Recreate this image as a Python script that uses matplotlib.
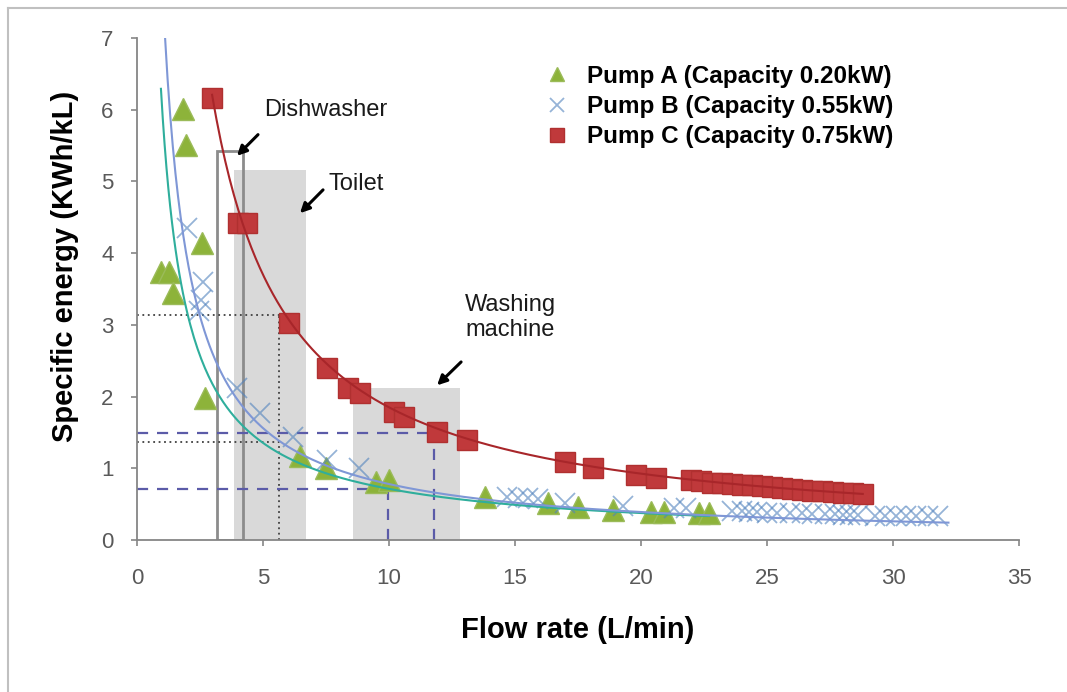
import numpy as np
import matplotlib
matplotlib.use("Agg")
import matplotlib.pyplot as plt
from matplotlib.patches import Rectangle
from matplotlib.lines import Line2D

plt.rcParams['font.family'] = ['Liberation Sans', 'DejaVu Sans']

# Pump A (green triangles)
pump_a_x = [0.95, 1.27, 1.43, 1.83, 1.94, 2.58, 2.7, 6.45, 7.5, 9.5, 10.0,
            13.8, 16.3, 17.5, 18.9, 20.4, 20.9, 22.3, 22.7]
pump_a_y = [3.74, 3.74, 3.44, 6.01, 5.51, 4.14, 1.98, 1.17, 1.0, 0.81, 0.84,
            0.6, 0.52, 0.46, 0.42, 0.39, 0.39, 0.37, 0.37]

# Pump B (blue crosses)
pump_b_x = [2.0, 2.6, 2.55, 2.45, 3.97, 4.88, 6.19, 7.54, 8.8,
            14.7, 15.1, 15.5, 15.9, 17.0, 19.3, 21.3, 21.8,
            23.6, 24.0, 24.3, 24.6, 25.0, 25.4, 25.9, 26.4, 26.8, 27.3, 27.7,
            28.0, 28.3, 28.6, 29.3, 29.7, 30.1, 30.5, 30.9, 31.4, 31.8]
pump_b_y = [4.35, 3.6, 3.35, 3.2, 2.12, 1.77, 1.44, 1.12, 1.0,
            0.6, 0.58, 0.58, 0.57, 0.52, 0.47, 0.45, 0.44,
            0.40, 0.40, 0.39, 0.39, 0.38, 0.38, 0.37, 0.37, 0.36, 0.36, 0.36,
            0.35, 0.35, 0.35, 0.34, 0.34, 0.34, 0.34, 0.33, 0.33, 0.33]

# Pump C (red squares)
pump_c_x = [2.98, 4.0, 4.37, 6.03, 7.54, 8.37, 8.85, 10.2, 10.6, 11.9, 13.1,
            17.0, 18.1, 19.8, 20.6,
            22.0, 22.4, 22.8, 23.2, 23.6, 24.0, 24.4, 24.8, 25.2, 25.6, 26.0,
            26.4, 26.8, 27.2, 27.6, 28.0, 28.4, 28.8]
pump_c_y = [6.16, 4.42, 4.42, 3.03, 2.40, 2.12, 2.05, 1.79, 1.72, 1.51, 1.39,
            1.09, 1.0, 0.91, 0.86,
            0.83, 0.82, 0.80, 0.79, 0.78, 0.77, 0.76, 0.75, 0.74, 0.72, 0.71,
            0.70, 0.69, 0.68, 0.67, 0.66, 0.65, 0.64]

labels = ["Pump A (Capacity 0.20kW)", "Pump B (Capacity 0.55kW)",
          "Pump C (Capacity 0.75kW)"]

# power trendlines y = a * x^b, with their x range
trend_a = [6.0, 7.8, 18.5]
trend_b = [-0.925, -1.0, -1.0]
trend_start = [0.95, 1.11, 2.98]
trend_end = [22.7, 32.2, 28.8]

# appliance flow-rate zones: (x from, x to, top)
dishwasher = (3.17, 4.2, 5.43)
toilet = (3.85, 6.7, 5.16)
washing = (8.57, 12.8, 2.12)

# reading guides
dot_x = 5.63
dot_y = [3.14, 1.37]
dash_x = [11.8, 9.96]
dash_y = [1.49, 0.71]

fig = plt.figure(figsize=(10.67, 6.92), dpi=100)
ax = fig.add_axes([137/1067, 1-540/692, 882/1067, 502/692])

for x0, x1, top in [toilet, washing]:
    ax.add_patch(Rectangle((x0, 0), x1-x0, top, facecolor='#d9d9d9',
                           edgecolor='none', zorder=1))
ax.add_patch(Rectangle((dishwasher[0], 0), dishwasher[1]-dishwasher[0], dishwasher[2],
                       fill=False, edgecolor='#8c8c8c', lw=2, zorder=2))

# dotted guides
for yv in dot_y:
    ax.plot([0, dot_x], [yv, yv], ls=(0, (1, 2)), color='#404040', lw=1.3, zorder=2)
ax.plot([dot_x, dot_x], [0, dot_y[0]], ls=(0, (1, 2)), color='#404040', lw=1.3, zorder=2)
# dashed guides
for xv, yv in zip(dash_x, dash_y):
    ax.plot([0, xv], [yv, yv], ls=(0, (5, 4)), color='#5b5ba8', lw=1.6, zorder=2)
    ax.plot([xv, xv], [0, yv], ls=(0, (5, 4)), color='#5b5ba8', lw=1.6, zorder=2)

# markers
ha, = ax.plot(pump_a_x, pump_a_y, ls='none', marker='^', ms=16, color='#8db33a',
              mec='#9bbb59', zorder=3)
hb, = ax.plot(pump_b_x, pump_b_y, ls='none', marker='x', ms=15, mew=1.3,
              color='#4f81bd', alpha=0.6, zorder=3)
hc, = ax.plot(pump_c_x, pump_c_y, ls='none', marker='s', ms=15, color='#c0393b',
              mec='#b03030', zorder=3)

# trendlines
trend_colors = ['#2fae9c', '#7f97d6', '#a8262a']
for a, b, s, e, c in zip(trend_a, trend_b, trend_start, trend_end, trend_colors):
    xs = np.linspace(s, e, 300)
    ax.plot(xs, a * xs ** b, color=c, lw=1.5, zorder=4)

# annotations
arrow = dict(arrowstyle='-|>', color='black', lw=2.2, mutation_scale=14)
ax.annotate('', xy=(3.89, 5.33), xytext=(4.88, 5.68), arrowprops=arrow, zorder=5)
ax.annotate('', xy=(6.39, 4.53), xytext=(7.46, 4.91), arrowprops=arrow, zorder=5)
ax.annotate('', xy=(11.83, 2.13), xytext=(12.94, 2.51), arrowprops=arrow, zorder=5)
ax.text(5.05, 6.0, 'Dishwasher', fontsize=17, va='center', ha='left', color='#1a1a1a')
ax.text(7.6, 4.97, 'Toilet', fontsize=17, va='center', ha='left', color='#1a1a1a')
ax.text(14.8, 3.1, 'Washing\nmachine', fontsize=17, va='center', ha='center',
        color='#1a1a1a', linespacing=1.15)

ax.set_xlim(0, 35)
ax.set_ylim(0, 7)
ax.set_xticks(range(0, 36, 5))
ax.set_yticks(range(0, 8))
for s in ['top', 'right']:
    ax.spines[s].set_visible(False)
for s in ['left', 'bottom']:
    ax.spines[s].set_color('#868686')
    ax.spines[s].set_linewidth(1.3)
ax.tick_params(axis='both', direction='out', length=4, width=1.2, color='#868686',
               labelcolor='#595959', labelsize=16)
ax.tick_params(axis='x', pad=16)
ax.tick_params(axis='y', pad=13)

ax.set_xlabel('Flow rate (L/min)', fontsize=21, fontweight='bold', va='center')
ax.xaxis.set_label_coords(0.5, -0.179)
ax.set_ylabel('Specific energy (KWh/kL)', fontsize=21, fontweight='bold', va='center')
ax.yaxis.set_label_coords(-0.082, 0.546)

ax.legend([ha, hb, hc], labels, loc='upper left', bbox_to_anchor=(0.438, 0.99),
          frameon=False, prop={'weight': 'bold', 'size': 17.5}, markerscale=0.65,
          handletextpad=0.7, labelspacing=0.3, handlelength=1.0)

# outer frame of the picture
fig.add_artist(Line2D([8/1067, 8/1067], [0, 1-8/692], color='#c0c0c0', lw=1.5))
fig.add_artist(Line2D([8/1067, 1], [1-8/692, 1-8/692], color='#c0c0c0', lw=1.5))

fig.savefig('out.png', dpi=100)
